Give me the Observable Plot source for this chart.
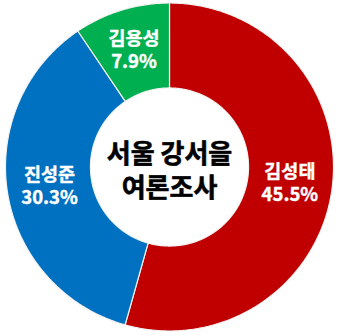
<!DOCTYPE html>
<html><head><meta charset="utf-8">
<script src="https://cdn.jsdelivr.net/npm/d3@7"></script>
<script src="https://cdn.jsdelivr.net/npm/@observablehq/plot@0.6"></script>
<style>html,body{margin:0;padding:0;background:#fff;overflow:hidden}</style>
</head><body><div id="chart"></div>
<script>
const candidates = ["김성태", "진성준", "김용성"];
const shares = [45.5, 30.3, 7.9];
const shareLabels = ["45.5%", "30.3%", "7.9%"];
const colors = ["#C00000", "#0070C0", "#00B050"];
const centerTitle = ["서울 강서을", "여론조사"];

const W = 340, H = 335;
const R = 164;               // outer radius in px
const innerR = 0.482, outerR = 1;

const pie = d3.pie().sort(null).value(d => d.value)(
  candidates.map((name, i) => ({name, value: shares[i], label: shareLabels[i]}))
);

// polygon outline of each ring slice, in unit (data) coordinates
const points = [];
for (const s of pie) {
  const n = Math.max(8, Math.ceil((s.endAngle - s.startAngle) / 0.01));
  const ring = [];
  for (let k = 0; k <= n; k++) {
    const a = s.startAngle + (s.endAngle - s.startAngle) * k / n;
    ring.push({a, r: outerR});
  }
  for (let k = n; k >= 0; k--) {
    const a = s.startAngle + (s.endAngle - s.startAngle) * k / n;
    ring.push({a, r: innerR});
  }
  ring.push(ring[0]);
  for (const p of ring) points.push({name: s.data.name, x: p.r * Math.sin(p.a), y: p.r * Math.cos(p.a)});
}

const midR = (innerR + outerR) / 2;
const labels = pie.map(s => {
  const a = (s.startAngle + s.endAngle) / 2;
  return {x: midR * Math.sin(a), y: midR * Math.cos(a), name: s.data.name, pct: s.data.label};
});
const titleGap = 34 / R;
const titleLines = centerTitle.map((t, i) => ({t, y: -0.03 + (0.5 - i) * titleGap}));

const font = "'Malgun Gothic','Noto Sans CJK KR','Noto Sans',sans-serif";

const chart = Plot.plot({
  width: W, height: H,
  margin: 0,
  x: {domain: [-169 / R, 171 / R], axis: null},
  y: {domain: [-(335 - 166.5) / R, 166.5 / R], axis: null},
  color: {domain: candidates, range: colors},
  style: {fontFamily: font, background: "white"},
  marks: [
    Plot.line(points, {x: "x", y: "y", z: "name", fill: "name", stroke: "#f2f2f2", strokeWidth: 1.2, curve: "linear"}),
    Plot.text(labels, {x: "x", y: "y", text: "name", dy: -11.5, fill: "white", stroke: "white", strokeWidth: 0.4, fontSize: 18.5, fontWeight: "bold", fontFamily: font}),
    Plot.text(labels, {x: "x", y: "y", text: "pct", dy: 11.5, fill: "white", stroke: "white", strokeWidth: 0.4, fontSize: 18.5, fontWeight: "bold", fontFamily: font}),
    Plot.text(titleLines, {x: () => 0, y: "y", text: "t", fill: "black", stroke: "black", strokeWidth: 0.6, fontSize: 26, fontWeight: "bold", fontFamily: font})
  ]
});
document.getElementById("chart").appendChild(chart);
</script></body></html>
